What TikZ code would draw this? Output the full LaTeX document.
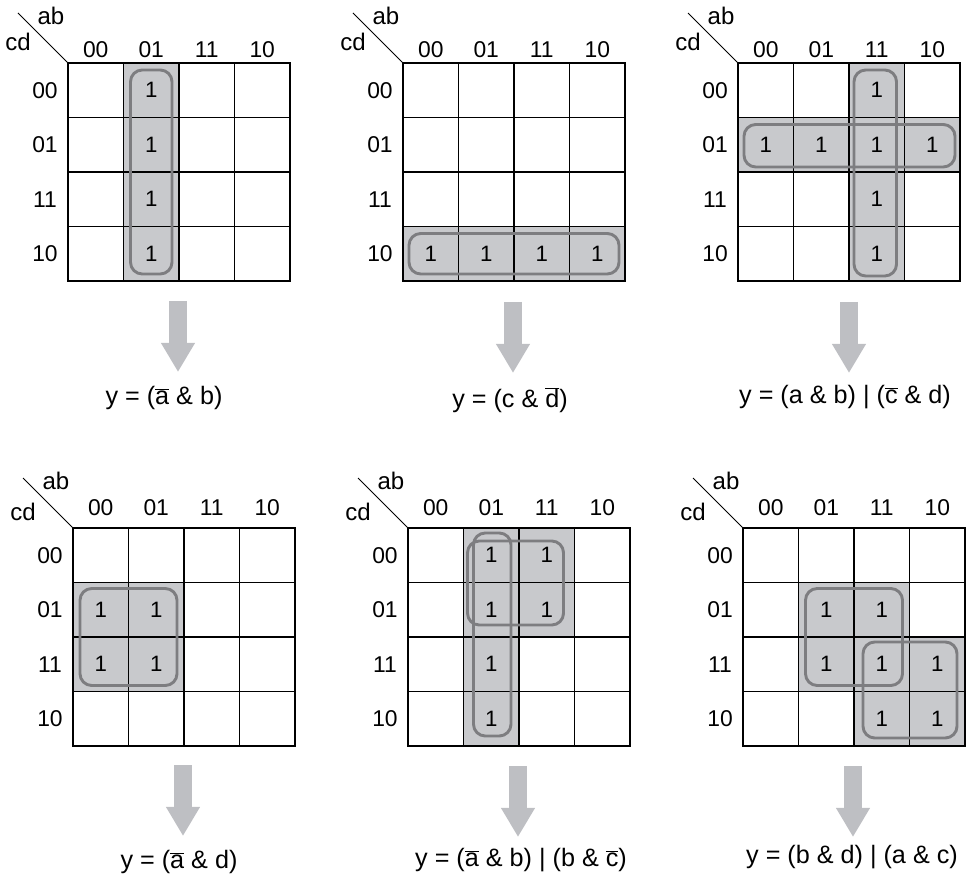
\documentclass[tikz,border=0pt]{standalone}
\usepackage{fontspec}
\setmainfont{Liberation Sans}
\usetikzlibrary{arrows.meta, backgrounds}
\definecolor{kfill}{RGB}{200,201,204}
\definecolor{kloopc}{RGB}{125,125,128}
\definecolor{karrow}{RGB}{190,191,195}
\newcommand{\nt}[1]{\ensuremath{\overline{\hbox{#1}}}}

\begin{document}
\begin{tikzpicture}[x=0.03cm, y=-0.03cm,
  cell/.style={draw, line width=1.2pt, minimum width=1.665cm, minimum height=1.635cm, inner sep=0pt, outer sep=0pt},
  lbl/.style={font=\fontsize{19.5}{22}\selectfont, inner sep=0pt},
  var/.style={font=\fontsize{20.5}{24}\selectfont, inner sep=0pt},
  one/.style={font=\fontsize{19}{22}\selectfont, inner sep=0pt},
  expr/.style={font=\fontsize{21.5}{25}\selectfont, inner sep=0pt},
  kloop/.style={draw=kloopc, line width=2.5pt, rounded corners=10pt},
  bigarrow/.style={color=karrow, line width=15.4pt, -{Triangle[width=27.3pt, length=24.8pt]}}]

\useasboundingbox (0,0) rectangle (967,876);

% six empty maps
\foreach \m/\gx/\gy/\hy/\cy in {1/68/63/13/21, 2/403/63/13/21, 3/738/63/13/21,
                                4/73/528/20/16, 5/408/528/20/16, 6/743/528/20/16} {
  \coordinate (m\m) at (\gx,\gy);
  \coordinate (m\m-d) at (\gx-50,\gy-50);
  \foreach \r in {0,...,3}
    \foreach \c in {0,...,3}
      \node[cell] (m\m-\r\c) at (\gx+55.5*\c+27.75, \gy+54.5*\r+27.25) {};
  \foreach \lab [count=\i from 0] in {00,01,11,10} {
    \node[lbl] (m\m-col\i) at (\gx+55.5*\i+27.75, \gy-\hy) {\lab};
    \node[lbl] (m\m-row\i) at (\gx-23, \gy+54.5*\i+27.25) {\lab};
  }
  \draw[line width=0.8pt] (m\m) -- (m\m-d);
  \node[var] (m\m-ab) at (\gx-17,\gy-47) {ab};
  \node[var] (m\m-cd) at (\gx-50,\gy-\cy) {cd};
}

% shaded cells
\begin{scope}[on background layer]
  \fill[kfill] (m1-01.north west) rectangle (m1-31.south east);
  \fill[kfill] (m2-30.north west) rectangle (m2-33.south east);
  \fill[kfill] (m3-02.north west) rectangle (m3-32.south east);
  \fill[kfill] (m3-10.north west) rectangle (m3-13.south east);
  \fill[kfill] (m4-10.north west) rectangle (m4-21.south east);
  \fill[kfill] (m5-01.north west) rectangle (m5-31.south east);
  \fill[kfill] (m5-02.north west) rectangle (m5-12.south east);
  \fill[kfill] (m6-11.north west) rectangle (m6-22.south east);
  \fill[kfill] (m6-22.north west) rectangle (m6-33.south east);
\end{scope}

% groups
\draw[kloop] ([shift={(7,7)}]m1-01.north west) rectangle ([shift={(-7,-7)}]m1-31.south east);
\draw[kloop] ([shift={(6,7)}]m2-30.north west) rectangle ([shift={(-6,-7)}]m2-33.south east);
\draw[kloop] ([shift={(5,7)}]m3-02.north west) rectangle ([shift={(-8,-5)}]m3-32.south east);
\draw[kloop] ([shift={(6,7)}]m3-10.north west) rectangle ([shift={(-5,-5)}]m3-13.south east);
\draw[kloop] ([shift={(7,6)}]m4-10.north west) rectangle ([shift={(-7,-6)}]m4-21.south east);
\draw[kloop] ([shift={(10,5)}]m5-01.north west) rectangle ([shift={(-8,-10)}]m5-31.south east);
\draw[kloop] ([shift={(4,13)}]m5-01.north west) rectangle ([shift={(-11,-12)}]m5-12.south east);
\draw[kloop] ([shift={(7,6)}]m6-11.north west) rectangle ([shift={(-7,-6)}]m6-22.south east);
\draw[kloop] ([shift={(9,5)}]m6-22.north west) rectangle ([shift={(-8,-8)}]m6-33.south east);

% ones
\foreach \rc in {01,11,21,31} \node[one] (m1-\rc-v) at (m1-\rc) {1};
\foreach \rc in {30,31,32,33} \node[one] (m2-\rc-v) at (m2-\rc) {1};
\foreach \rc in {02,10,11,12,13,22,32} \node[one] (m3-\rc-v) at (m3-\rc) {1};
\foreach \rc in {10,11,20,21} \node[one] (m4-\rc-v) at (m4-\rc) {1};
\foreach \rc in {01,02,11,12,21,31} \node[one] (m5-\rc-v) at (m5-\rc) {1};
\foreach \rc in {11,12,21,22,23,32,33} \node[one] (m6-\rc-v) at (m6-\rc) {1};

% results
\node[expr] (e1) at (164,398) {y = (\nt{a} \& b)};
\node[expr] (e2) at (510,400) {y = (c \& \nt{d})};
\node[expr] (e3) at (845,397) {y = (a \& b) | (\nt{c} \& d)};
\node[expr] (e4) at (179,862) {y = (\nt{a} \& d)};
\node[expr] (e5) at (521,860) {y = (\nt{a} \& b) | (b \& \nt{c})};
\node[expr] (e6) at (852,857) {y = (b \& d) | (a \& c)};

\foreach \k/\ax/\ay in {1/178/301, 2/513/302, 3/849/302, 4/183/765, 5/518/766, 6/853/766} {
  \coordinate (a\k) at (\ax,\ay);
  \coordinate (t\k) at (\ax,\ay+71);
  \draw[bigarrow] (a\k) -- (t\k);
}
\end{tikzpicture}
\end{document}
